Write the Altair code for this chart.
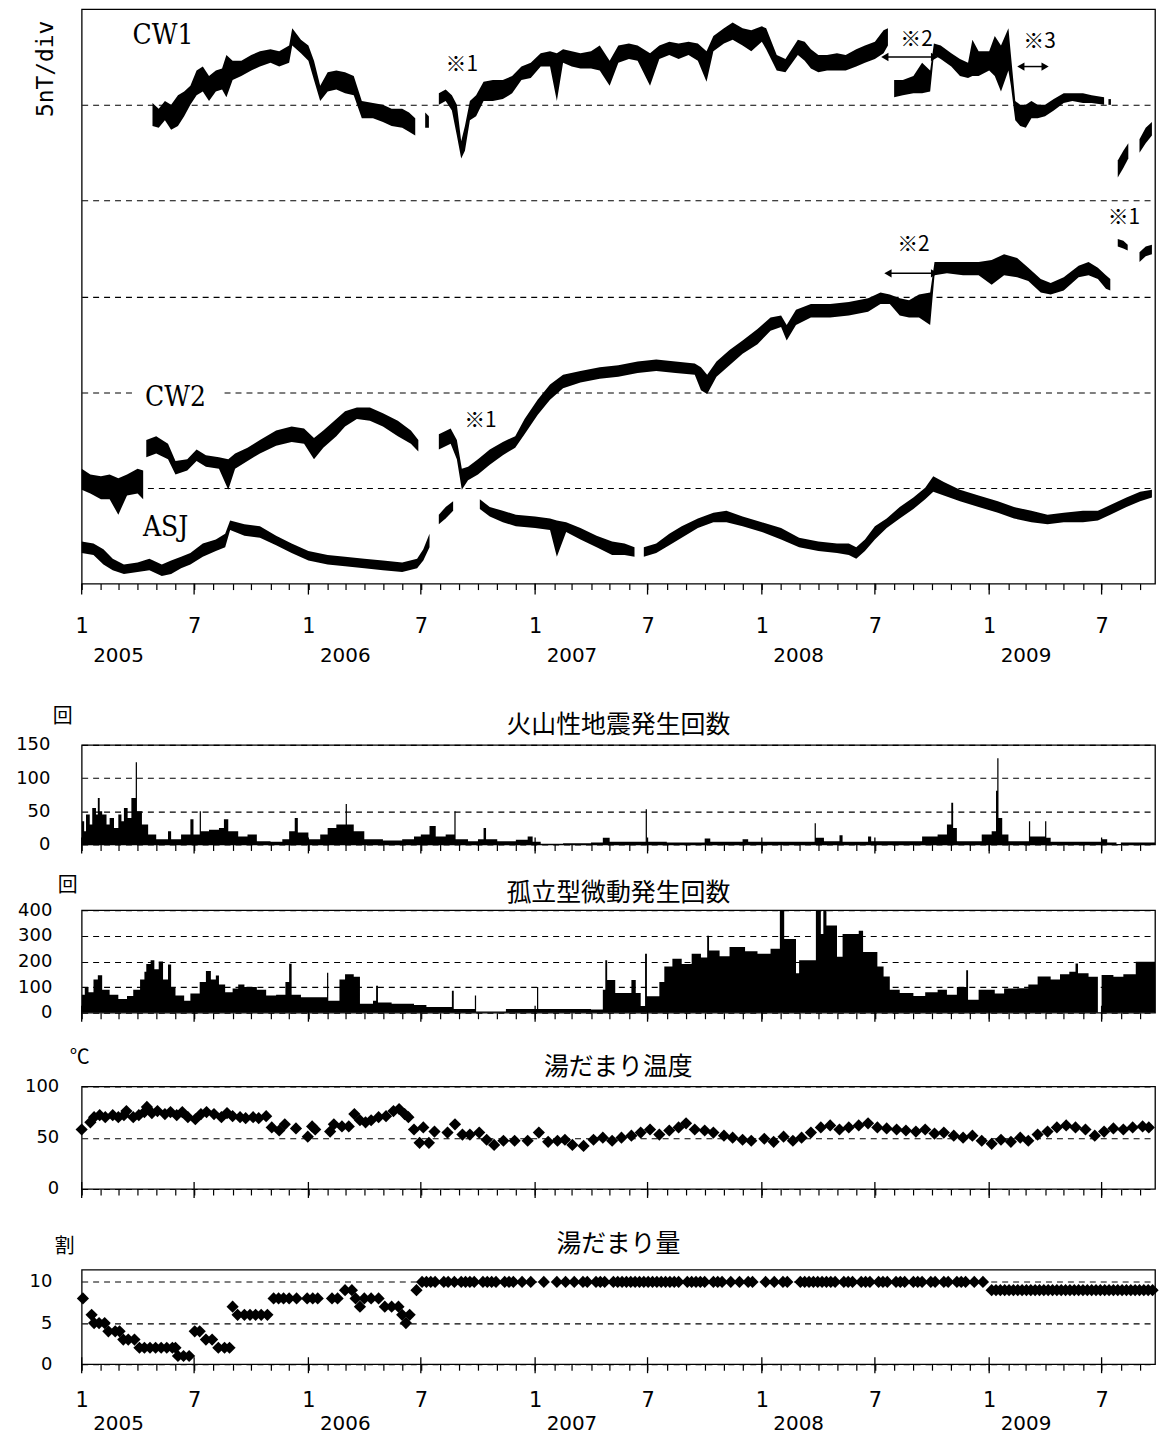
import altair as alt
import pandas as pd

# ---------------------------------------------------------------- data
# Magnetic total force (nT, arbitrary offset; 5 nT per division). (segment, date, low, high)
cw1_points = [
    (1, "2005-04-25", 23.9, 25.1), (1, "2005-05-05", 23.8, 24.8), (1, "2005-05-15", 24.2, 25.2),
    (1, "2005-05-25", 23.7, 25.0), (1, "2005-06-05", 23.9, 25.5), (1, "2005-06-15", 24.4, 25.7),
    (1, "2005-06-25", 25.0, 26.0), (1, "2005-07-05", 25.5, 26.8), (1, "2005-07-15", 25.7, 27.0),
    (1, "2005-07-25", 25.2, 26.5), (1, "2005-08-05", 25.7, 26.8), (1, "2005-08-15", 25.8, 26.9),
    (1, "2005-08-22", 25.4, 27.6), (1, "2005-09-01", 26.3, 27.3), (1, "2005-09-15", 26.5, 27.3),
    (1, "2005-10-01", 26.8, 27.6), (1, "2005-10-15", 27.0, 27.8), (1, "2005-11-01", 27.2, 27.9),
    (1, "2005-11-15", 27.0, 27.8), (1, "2005-12-01", 27.2, 28.1), (1, "2005-12-06", 28.1, 29.0),
    (1, "2005-12-20", 27.7, 28.4), (1, "2006-01-01", 27.3, 28.1), (1, "2006-01-10", 26.3, 27.3),
    (1, "2006-01-20", 25.2, 26.0), (1, "2006-02-01", 25.7, 26.7), (1, "2006-02-15", 25.8, 26.8),
    (1, "2006-03-01", 25.6, 26.7), (1, "2006-03-15", 25.5, 26.5), (1, "2006-03-28", 24.3, 25.2),
    (1, "2006-04-15", 24.3, 25.1), (1, "2006-05-01", 24.1, 25.0), (1, "2006-05-15", 23.9, 24.8),
    (1, "2006-06-01", 23.8, 24.8), (1, "2006-06-12", 23.6, 24.6), (1, "2006-06-22", 23.4, 24.3),
    (2, "2006-07-08", 23.8, 24.6), (2, "2006-07-14", 23.8, 24.4),
    (3, "2006-07-30", 25.0, 25.6), (3, "2006-08-10", 25.2, 25.8), (3, "2006-08-20", 24.7, 25.5),
    (3, "2006-08-28", 23.4, 25.0), (3, "2006-09-04", 22.2, 23.1), (3, "2006-09-10", 22.6, 23.9),
    (3, "2006-09-18", 24.2, 25.2), (3, "2006-09-28", 24.4, 25.5), (3, "2006-10-10", 25.2, 26.2),
    (3, "2006-10-25", 25.2, 26.3), (3, "2006-11-10", 25.3, 26.3), (3, "2006-11-25", 25.6, 26.5),
    (3, "2006-12-10", 26.3, 27.0), (3, "2006-12-25", 26.4, 27.2), (3, "2007-01-10", 27.0, 27.7),
    (3, "2007-01-25", 27.0, 27.8), (3, "2007-02-05", 25.2, 27.7), (3, "2007-02-15", 27.2, 27.9),
    (3, "2007-03-01", 27.0, 27.8), (3, "2007-03-15", 26.9, 27.7), (3, "2007-04-01", 26.9, 27.8),
    (3, "2007-04-15", 26.8, 28.1), (3, "2007-05-01", 26.0, 27.3), (3, "2007-05-15", 27.2, 28.1),
    (3, "2007-06-01", 27.4, 28.2), (3, "2007-06-15", 27.3, 28.1), (3, "2007-07-05", 26.0, 27.7),
    (3, "2007-07-20", 27.4, 28.1), (3, "2007-08-05", 27.6, 28.3), (3, "2007-08-20", 27.4, 28.2),
    (3, "2007-09-05", 27.6, 28.3), (3, "2007-09-20", 27.3, 28.2), (3, "2007-10-04", 26.2, 27.8),
    (3, "2007-10-15", 27.8, 28.6), (3, "2007-11-01", 28.2, 29.0), (3, "2007-11-15", 28.4, 29.3),
    (3, "2007-12-01", 28.1, 29.0), (3, "2007-12-15", 27.8, 28.9), (3, "2008-01-01", 28.3, 29.1),
    (3, "2008-01-08", 27.9, 29.0), (3, "2008-01-25", 26.8, 27.6), (3, "2008-02-08", 26.7, 27.4),
    (3, "2008-02-28", 27.6, 28.4), (3, "2008-03-10", 27.3, 28.3), (3, "2008-03-20", 26.9, 27.9),
    (3, "2008-04-01", 26.7, 27.6), (3, "2008-04-15", 26.8, 27.6), (3, "2008-05-01", 26.8, 27.7),
    (3, "2008-05-15", 26.8, 27.6), (3, "2008-06-01", 27.0, 27.9), (3, "2008-06-15", 27.2, 28.1),
    (3, "2008-07-01", 27.4, 28.3), (3, "2008-07-15", 27.7, 28.9), (3, "2008-07-22", 28.1, 29.0),
    (4, "2008-08-01", 25.4, 26.3), (4, "2008-08-15", 25.5, 26.3), (4, "2008-09-01", 25.6, 26.5),
    (4, "2008-09-15", 25.6, 27.2), (4, "2008-09-28", 25.7, 26.8), (4, "2008-10-04", 27.6, 28.2),
    (4, "2008-10-15", 27.4, 28.1), (4, "2008-11-01", 27.0, 27.7), (4, "2008-11-15", 26.5, 27.4),
    (4, "2008-11-28", 26.4, 27.2), (4, "2008-12-05", 26.5, 28.4), (4, "2008-12-15", 26.5, 27.8),
    (4, "2009-01-01", 26.8, 27.8), (4, "2009-01-10", 26.5, 28.6), (4, "2009-01-20", 25.7, 28.1),
    (4, "2009-02-01", 26.8, 29.0), (4, "2009-02-05", 26.0, 27.6), (4, "2009-02-12", 24.2, 25.2),
    (4, "2009-02-20", 23.9, 25.0), (4, "2009-03-01", 23.8, 25.0), (4, "2009-03-10", 24.3, 25.2),
    (4, "2009-03-20", 24.3, 25.0), (4, "2009-04-01", 24.4, 25.0), (4, "2009-04-15", 24.7, 25.3),
    (4, "2009-05-01", 25.1, 25.6), (4, "2009-05-15", 25.2, 25.6), (4, "2009-06-01", 25.1, 25.6),
    (4, "2009-06-15", 25.1, 25.5), (4, "2009-07-05", 25.0, 25.4),
    (5, "2009-07-12", 25.0, 25.3), (5, "2009-07-16", 25.0, 25.3),
    (6, "2009-07-27", 21.2, 22.1), (6, "2009-08-05", 21.7, 22.6), (6, "2009-08-13", 22.2, 23.0),
    (7, "2009-08-31", 22.5, 23.2), (7, "2009-09-10", 23.0, 23.8), (7, "2009-09-20", 23.4, 24.1),
]

cw2_points = [
    (1, "2005-01-01", 4.9, 6.0), (1, "2005-01-15", 4.7, 5.7), (1, "2005-02-01", 4.4, 5.6),
    (1, "2005-02-15", 4.4, 5.7), (1, "2005-03-01", 3.6, 5.5), (1, "2005-03-15", 4.6, 5.7),
    (1, "2005-04-01", 4.7, 6.0), (1, "2005-04-10", 4.4, 5.9),
    (2, "2005-04-15", 6.6, 7.5), (2, "2005-05-01", 6.8, 7.7), (2, "2005-05-20", 6.5, 7.3),
    (2, "2005-06-01", 5.7, 6.4), (2, "2005-06-20", 5.9, 6.5), (2, "2005-07-05", 6.4, 7.0),
    (2, "2005-07-20", 6.1, 6.7), (2, "2005-08-10", 6.0, 6.6), (2, "2005-08-25", 4.9, 6.5),
    (2, "2005-09-05", 6.0, 6.8), (2, "2005-09-25", 6.4, 7.1), (2, "2005-10-15", 6.8, 7.5),
    (2, "2005-11-10", 7.2, 8.0), (2, "2005-12-05", 7.4, 8.2), (2, "2005-12-25", 7.3, 8.1),
    (2, "2006-01-10", 6.5, 7.6), (2, "2006-01-25", 7.1, 8.0), (2, "2006-02-15", 7.7, 8.6),
    (2, "2006-03-01", 8.2, 9.0), (2, "2006-03-20", 8.6, 9.2), (2, "2006-04-10", 8.5, 9.2),
    (2, "2006-05-01", 8.2, 8.9), (2, "2006-05-25", 7.7, 8.5), (2, "2006-06-15", 7.3, 8.0),
    (2, "2006-06-27", 6.9, 7.5),
    (3, "2006-07-30", 7.0, 7.8), (3, "2006-08-18", 7.3, 8.1), (3, "2006-08-28", 6.5, 7.5),
    (3, "2006-09-05", 4.9, 6.0), (3, "2006-09-15", 5.4, 6.1), (3, "2006-10-01", 5.7, 6.5),
    (3, "2006-10-20", 6.2, 7.0), (3, "2006-11-10", 6.7, 7.4), (3, "2006-11-30", 7.1, 7.7),
    (3, "2006-12-15", 7.8, 8.6), (3, "2007-01-05", 8.8, 9.6), (3, "2007-01-25", 9.6, 10.4),
    (3, "2007-02-15", 10.2, 10.9), (3, "2007-03-15", 10.5, 11.1), (3, "2007-04-15", 10.7, 11.3),
    (3, "2007-05-15", 10.8, 11.4), (3, "2007-06-15", 11.0, 11.6), (3, "2007-07-15", 11.1, 11.7),
    (3, "2007-08-15", 11.0, 11.6), (3, "2007-09-15", 10.9, 11.5), (3, "2007-09-25", 10.1, 11.3),
    (3, "2007-10-05", 9.9, 10.9), (3, "2007-10-20", 10.8, 11.6), (3, "2007-11-10", 11.4, 12.2),
    (3, "2007-12-01", 12.0, 12.7), (3, "2007-12-25", 12.5, 13.3), (3, "2008-01-15", 13.2, 13.9),
    (3, "2008-02-01", 13.4, 14.0), (3, "2008-02-10", 12.7, 13.5), (3, "2008-02-25", 13.5, 14.3),
    (3, "2008-03-20", 13.9, 14.6), (3, "2008-04-20", 13.9, 14.6), (3, "2008-05-20", 14.0, 14.7),
    (3, "2008-06-20", 14.2, 14.9), (3, "2008-07-10", 14.6, 15.2), (3, "2008-07-25", 14.6, 15.1),
    (3, "2008-08-10", 14.0, 14.9), (3, "2008-08-25", 13.9, 14.8), (3, "2008-09-10", 13.9, 15.1),
    (3, "2008-09-28", 13.5, 15.2), (3, "2008-10-05", 16.1, 16.8), (3, "2008-10-25", 16.2, 16.8),
    (3, "2008-11-20", 16.1, 16.8), (3, "2008-12-15", 16.1, 16.8), (3, "2009-01-05", 15.6, 16.9),
    (3, "2009-01-25", 16.1, 17.2), (3, "2009-02-15", 16.0, 17.0), (3, "2009-03-05", 15.8, 16.5),
    (3, "2009-03-25", 15.2, 15.9), (3, "2009-04-10", 15.1, 15.7), (3, "2009-05-01", 15.3, 16.0),
    (3, "2009-05-25", 16.0, 16.6), (3, "2009-06-10", 16.1, 16.8), (3, "2009-06-25", 15.9, 16.5),
    (3, "2009-07-08", 15.4, 16.1), (3, "2009-07-15", 15.3, 15.9),
    (4, "2009-07-27", 17.6, 18.0), (4, "2009-08-05", 17.5, 17.9), (4, "2009-08-12", 17.4, 17.7),
    (5, "2009-08-31", 16.8, 17.3), (5, "2009-09-10", 17.1, 17.6), (5, "2009-09-20", 17.2, 17.7),
]

asj_points = [
    (1, "2005-01-01", 1.6, 2.2), (1, "2005-01-20", 1.5, 2.1), (1, "2005-02-05", 1.0, 1.8),
    (1, "2005-02-20", 0.7, 1.3), (1, "2005-03-10", 0.5, 1.0), (1, "2005-04-01", 0.6, 1.1),
    (1, "2005-04-20", 0.7, 1.3), (1, "2005-05-10", 0.4, 1.0), (1, "2005-05-25", 0.5, 1.2),
    (1, "2005-06-10", 0.8, 1.4), (1, "2005-06-25", 1.0, 1.6), (1, "2005-07-15", 1.4, 2.1),
    (1, "2005-08-05", 1.7, 2.3), (1, "2005-08-20", 1.9, 2.6), (1, "2005-08-28", 2.8, 3.3),
    (1, "2005-09-20", 2.5, 3.1), (1, "2005-10-15", 2.4, 3.0), (1, "2005-11-10", 2.0, 2.5),
    (1, "2005-12-05", 1.6, 2.1), (1, "2006-01-01", 1.2, 1.7), (1, "2006-02-01", 1.0, 1.5),
    (1, "2006-03-01", 0.9, 1.4), (1, "2006-04-01", 0.8, 1.3), (1, "2006-05-01", 0.7, 1.2),
    (1, "2006-06-01", 0.6, 1.1), (1, "2006-06-25", 0.8, 1.3), (1, "2006-07-05", 1.2, 1.8),
    (1, "2006-07-15", 1.9, 2.6),
    (2, "2006-07-30", 3.1, 3.6), (2, "2006-08-10", 3.4, 4.0), (2, "2006-08-22", 3.8, 4.3),
    (3, "2006-10-04", 3.9, 4.4), (3, "2006-10-20", 3.5, 4.0), (3, "2006-11-10", 3.2, 3.8),
    (3, "2006-12-01", 3.0, 3.6), (3, "2007-01-01", 2.9, 3.5), (3, "2007-01-25", 2.8, 3.4),
    (3, "2007-02-05", 1.4, 3.3), (3, "2007-02-20", 2.7, 3.2), (3, "2007-03-15", 2.3, 2.9),
    (3, "2007-04-10", 1.9, 2.5), (3, "2007-05-05", 1.5, 2.2), (3, "2007-05-25", 1.5, 2.1),
    (3, "2007-06-10", 1.4, 1.9),
    (4, "2007-06-25", 1.4, 1.9), (4, "2007-07-15", 1.6, 2.1), (4, "2007-08-05", 2.0, 2.6),
    (4, "2007-08-25", 2.4, 3.0), (4, "2007-09-20", 2.9, 3.4), (4, "2007-10-15", 3.2, 3.7),
    (4, "2007-11-05", 3.2, 3.8), (4, "2007-12-01", 3.0, 3.5), (4, "2008-01-01", 2.7, 3.2),
    (4, "2008-02-01", 2.3, 2.9), (4, "2008-03-01", 1.9, 2.4), (4, "2008-04-01", 1.7, 2.2),
    (4, "2008-05-01", 1.6, 2.1), (4, "2008-05-20", 1.5, 2.1), (4, "2008-06-01", 1.3, 1.9),
    (4, "2008-06-15", 1.7, 2.3), (4, "2008-07-01", 2.3, 3.0), (4, "2008-07-20", 2.9, 3.4),
    (4, "2008-08-10", 3.4, 4.0), (4, "2008-09-01", 3.9, 4.5), (4, "2008-09-20", 4.4, 5.0),
    (4, "2008-10-03", 4.8, 5.6), (4, "2008-10-20", 4.6, 5.3), (4, "2008-11-15", 4.3, 4.9),
    (4, "2008-12-15", 4.0, 4.6), (4, "2009-01-15", 3.7, 4.3), (4, "2009-02-10", 3.4, 4.0),
    (4, "2009-03-10", 3.2, 3.8), (4, "2009-04-05", 3.1, 3.6), (4, "2009-05-01", 3.2, 3.7),
    (4, "2009-06-01", 3.2, 3.8), (4, "2009-06-25", 3.3, 3.8), (4, "2009-07-15", 3.6, 4.1),
    (4, "2009-08-10", 4.0, 4.5), (4, "2009-09-01", 4.3, 4.8), (4, "2009-09-20", 4.5, 4.9),
]

series_labels = [("CW1", "2005-05-12", 28.6), ("CW2", "2005-06-01", 9.7), ("ASJ", "2005-05-16", 2.9)]
note_labels = [("※1", "2006-09-05", 27.1), ("※1", "2006-10-05", 8.5), ("※2", "2008-09-06", 28.4),
               ("※2", "2008-09-01", 17.7), ("※3", "2009-03-23", 28.3), ("※1", "2009-08-06", 19.1)]
arrows = [("2008-07-17", "2008-10-05", 27.5), ("2008-07-22", "2008-10-05", 16.2),
          ("2009-02-21", "2009-04-01", 27.0)]
label_mask = [("2005-03-28", "2005-08-14", 9.5, 10.45)]

# volcanic earthquakes per day (step values)
quake = [
    ("2005-01-01", 35), ("2005-01-05", 20), ("2005-01-08", 45), ("2005-01-14", 30), ("2005-01-18", 55),
    ("2005-01-24", 45), ("2005-01-27", 70), ("2005-01-30", 50), ("2005-02-03", 45), ("2005-02-10", 30),
    ("2005-02-15", 40), ("2005-02-22", 25), ("2005-03-01", 45), ("2005-03-06", 35), ("2005-03-10", 55),
    ("2005-03-16", 40), ("2005-03-22", 70), ("2005-03-29", 124), ("2005-03-31", 50), ("2005-04-08", 30),
    ("2005-04-18", 15), ("2005-05-01", 8), ("2005-05-20", 20), ("2005-05-25", 8), ("2005-06-10", 15),
    ("2005-06-25", 38), ("2005-06-30", 15), ("2005-07-10", 50), ("2005-07-12", 20), ("2005-07-25", 22),
    ("2005-08-10", 25), ("2005-08-18", 38), ("2005-08-25", 20), ("2005-09-10", 12), ("2005-09-25", 15),
    ("2005-10-10", 5), ("2005-11-01", 4), ("2005-11-20", 8), ("2005-12-01", 20), ("2005-12-10", 40),
    ("2005-12-15", 18), ("2006-01-01", 8), ("2006-01-20", 15), ("2006-02-01", 25), ("2006-02-15", 30),
    ("2006-03-02", 61), ("2006-03-04", 30), ("2006-03-15", 20), ("2006-04-01", 8), ("2006-05-01", 6),
    ("2006-06-01", 8), ("2006-06-20", 12), ("2006-07-01", 15), ("2006-07-15", 28), ("2006-07-25", 12),
    ("2006-08-10", 15), ("2006-08-24", 50), ("2006-08-26", 8), ("2006-09-15", 5), ("2006-10-01", 8),
    ("2006-10-10", 25), ("2006-10-14", 8), ("2006-11-01", 5), ("2006-12-01", 7), ("2006-12-20", 12),
    ("2006-12-28", 4), ("2007-01-10", 1), ("2007-02-15", 2), ("2007-04-01", 3), ("2007-04-20", 10),
    ("2007-05-01", 4), ("2007-06-28", 53), ("2007-06-30", 4), ("2007-08-01", 3), ("2007-10-01", 9),
    ("2007-10-10", 4), ("2007-12-01", 8), ("2007-12-10", 4), ("2008-03-26", 32), ("2008-03-28", 10),
    ("2008-04-10", 5), ("2008-05-05", 14), ("2008-05-10", 4), ("2008-06-20", 12), ("2008-06-25", 5),
    ("2008-09-15", 12), ("2008-10-10", 15), ("2008-10-25", 30), ("2008-11-01", 63), ("2008-11-04", 25),
    ("2008-11-10", 5), ("2008-12-20", 15), ("2009-01-05", 20), ("2009-01-12", 81), ("2009-01-14", 130),
    ("2009-01-16", 40), ("2009-01-22", 15), ("2009-02-01", 5), ("2009-03-06", 35), ("2009-03-08", 12),
    ("2009-03-25", 12), ("2009-04-01", 35), ("2009-04-03", 10), ("2009-04-10", 4), ("2009-07-01", 8),
    ("2009-07-10", 3), ("2009-07-25", 0), ("2009-08-01", 3), ("2009-09-25", 3),
]

# isolated tremors per day (step values)
tremor = [
    ("2005-01-01", 70), ("2005-01-06", 100), ("2005-01-12", 80), ("2005-01-20", 130), ("2005-01-27", 146),
    ("2005-02-03", 90), ("2005-02-15", 70), ("2005-03-01", 54), ("2005-03-15", 65), ("2005-03-25", 90),
    ("2005-04-05", 130), ("2005-04-12", 160), ("2005-04-15", 190), ("2005-04-22", 205), ("2005-04-28", 170),
    ("2005-05-05", 200), ("2005-05-12", 130), ("2005-05-20", 188), ("2005-05-25", 100), ("2005-06-01", 67),
    ("2005-06-15", 47), ("2005-06-25", 75), ("2005-07-10", 120), ("2005-07-20", 163), ("2005-07-28", 130),
    ("2005-08-05", 145), ("2005-08-10", 110), ("2005-08-20", 80), ("2005-09-01", 95), ("2005-09-10", 110),
    ("2005-09-20", 100), ("2005-10-10", 90), ("2005-10-25", 67), ("2005-11-10", 70), ("2005-11-25", 120),
    ("2005-12-01", 191), ("2005-12-05", 70), ("2005-12-20", 60), ("2006-01-15", 60), ("2006-01-31", 156),
    ("2006-02-02", 47), ("2006-02-20", 130), ("2006-03-01", 150), ("2006-03-15", 140), ("2006-03-25", 35),
    ("2006-04-15", 47), ("2006-04-20", 105), ("2006-04-23", 40), ("2006-05-15", 35), ("2006-06-20", 30),
    ("2006-07-10", 22), ("2006-08-20", 86), ("2006-08-23", 15), ("2006-09-26", 67), ("2006-09-28", 5),
    ("2006-11-15", 15), ("2007-01-04", 100), ("2007-01-06", 15), ("2007-04-01", 13), ("2007-04-20", 90),
    ("2007-04-24", 205), ("2007-04-27", 128), ("2007-05-10", 77), ("2007-06-05", 128), ("2007-06-12", 77),
    ("2007-06-20", 26), ("2007-06-27", 230), ("2007-06-30", 64), ("2007-07-20", 120), ("2007-07-28", 180),
    ("2007-08-10", 211), ("2007-08-25", 190), ("2007-09-10", 230), ("2007-09-25", 215), ("2007-10-05", 300),
    ("2007-10-08", 243), ("2007-10-25", 220), ("2007-11-10", 256), ("2007-12-05", 240), ("2007-12-25", 230),
    ("2008-01-15", 250), ("2008-01-30", 397), ("2008-02-06", 288), ("2008-02-25", 154), ("2008-03-01", 205),
    ("2008-03-28", 400), ("2008-04-05", 307), ("2008-04-09", 400), ("2008-04-14", 340), ("2008-05-01", 218),
    ("2008-05-10", 307), ("2008-06-05", 320), ("2008-06-12", 237), ("2008-07-05", 180), ("2008-07-15", 141),
    ("2008-07-25", 90), ("2008-08-10", 77), ("2008-09-01", 65), ("2008-09-20", 80), ("2008-10-10", 90),
    ("2008-10-25", 70), ("2008-11-10", 100), ("2008-11-25", 166), ("2008-11-28", 51), ("2008-12-15", 90),
    ("2009-01-10", 75), ("2009-01-25", 95), ("2009-02-15", 96), ("2009-03-05", 110), ("2009-03-20", 141),
    ("2009-04-10", 130), ("2009-04-25", 150), ("2009-05-10", 160), ("2009-05-20", 192), ("2009-05-24", 154),
    ("2009-06-10", 140), ("2009-06-25", 0), ("2009-07-01", 147), ("2009-07-20", 140), ("2009-08-05", 150),
    ("2009-08-25", 199), ("2009-09-25", 199),
]

# crater lake temperature (deg C)
temp = [
    ("2005-01-01", 58), ("2005-01-15", 65), ("2005-01-21", 70), ("2005-01-30", 72), ("2005-02-08", 70),
    ("2005-02-20", 72), ("2005-03-01", 70), ("2005-03-10", 72), ("2005-03-14", 76), ("2005-03-25", 70),
    ("2005-04-03", 72), ("2005-04-12", 75), ("2005-04-16", 80), ("2005-04-24", 74), ("2005-05-03", 76),
    ("2005-05-15", 73), ("2005-05-24", 75), ("2005-06-03", 72), ("2005-06-12", 75), ("2005-06-21", 70),
    ("2005-07-03", 68), ("2005-07-12", 73), ("2005-07-21", 75), ("2005-08-02", 73), ("2005-08-14", 70),
    ("2005-08-23", 74), ("2005-09-01", 71), ("2005-09-13", 70), ("2005-09-22", 69), ("2005-10-04", 70),
    ("2005-10-13", 69), ("2005-10-25", 71), ("2005-11-03", 60), ("2005-11-15", 57), ("2005-11-24", 63),
    ("2005-12-12", 59), ("2005-12-31", 51), ("2006-01-07", 61), ("2006-01-12", 58), ("2006-02-05", 56),
    ("2006-02-11", 63), ("2006-02-24", 61), ("2006-03-07", 61), ("2006-03-16", 73), ("2006-03-25", 67),
    ("2006-04-03", 65), ("2006-04-12", 67), ("2006-04-24", 70), ("2006-05-06", 71), ("2006-05-18", 76),
    ("2006-05-27", 78), ("2006-06-05", 73), ("2006-06-11", 70), ("2006-06-20", 58), ("2006-06-29", 45),
    ("2006-07-05", 60), ("2006-07-14", 45), ("2006-07-23", 56), ("2006-08-13", 55), ("2006-08-25", 63),
    ("2006-09-06", 53), ("2006-09-18", 53), ("2006-10-03", 55), ("2006-10-15", 48), ("2006-10-27", 43),
    ("2006-11-11", 47), ("2006-11-29", 47), ("2006-12-20", 47), ("2007-01-07", 55), ("2007-01-22", 46),
    ("2007-02-06", 47), ("2007-02-18", 48), ("2007-03-02", 43), ("2007-03-20", 42), ("2007-04-05", 48),
    ("2007-04-20", 50), ("2007-05-05", 47), ("2007-05-20", 50), ("2007-06-05", 52), ("2007-06-20", 55),
    ("2007-07-05", 58), ("2007-07-20", 53), ("2007-08-05", 57), ("2007-08-20", 60), ("2007-09-01", 64),
    ("2007-09-15", 58), ("2007-10-01", 57), ("2007-10-15", 55), ("2007-11-01", 52), ("2007-11-15", 50),
    ("2007-12-01", 48), ("2007-12-15", 47), ("2008-01-05", 49), ("2008-01-20", 46), ("2008-02-05", 51),
    ("2008-02-20", 47), ("2008-03-05", 50), ("2008-03-20", 55), ("2008-04-05", 60), ("2008-04-20", 62),
    ("2008-05-05", 58), ("2008-05-20", 60), ("2008-06-05", 62), ("2008-06-20", 64), ("2008-07-05", 60),
    ("2008-07-20", 59), ("2008-08-05", 58), ("2008-08-20", 57), ("2008-09-05", 56), ("2008-09-20", 58),
    ("2008-10-05", 54), ("2008-10-20", 55), ("2008-11-05", 52), ("2008-11-20", 50), ("2008-12-05", 52),
    ("2008-12-20", 47), ("2009-01-05", 44), ("2009-01-20", 48), ("2009-02-05", 46), ("2009-02-20", 50),
    ("2009-03-05", 47), ("2009-03-20", 53), ("2009-04-05", 56), ("2009-04-20", 60), ("2009-05-05", 62),
    ("2009-05-20", 60), ("2009-06-05", 58), ("2009-06-20", 52), ("2009-07-05", 56), ("2009-07-20", 59),
    ("2009-08-05", 58), ("2009-08-20", 60), ("2009-09-05", 61), ("2009-09-15", 60),
]

# crater lake water amount (tenths)
amount = [
    ("2005-01-03", 8), ("2005-01-17", 6), ("2005-01-21", 5), ("2005-01-29", 5), ("2005-02-07", 5),
    ("2005-02-13", 4), ("2005-02-24", 4), ("2005-03-03", 4), ("2005-03-09", 3), ("2005-03-17", 3),
    ("2005-03-27", 3), ("2005-04-04", 2), ("2005-04-12", 2), ("2005-04-21", 2), ("2005-04-30", 2),
    ("2005-05-09", 2), ("2005-05-18", 2), ("2005-05-27", 2), ("2005-06-01", 2), ("2005-06-05", 1),
    ("2005-06-14", 1), ("2005-06-23", 1), ("2005-07-02", 4), ("2005-07-10", 4), ("2005-07-20", 3),
    ("2005-07-30", 3), ("2005-08-09", 2), ("2005-08-19", 2), ("2005-08-27", 2), ("2005-09-01", 7),
    ("2005-09-09", 6), ("2005-09-20", 6), ("2005-09-29", 6), ("2005-10-08", 6), ("2005-10-17", 6),
    ("2005-10-27", 6), ("2005-11-06", 8), ("2005-11-14", 8), ("2005-11-22", 8), ("2005-12-01", 8),
    ("2005-12-13", 8), ("2005-12-30", 8), ("2006-01-08", 8), ("2006-01-16", 8), ("2006-02-08", 8),
    ("2006-02-17", 8), ("2006-03-01", 9), ("2006-03-12", 9), ("2006-03-18", 8), ("2006-03-25", 7),
    ("2006-04-01", 8), ("2006-04-12", 8), ("2006-04-24", 8), ("2006-05-04", 7), ("2006-05-15", 7),
    ("2006-05-26", 7), ("2006-06-01", 6), ("2006-06-07", 5), ("2006-06-13", 6), ("2006-06-24", 9),
    ("2006-07-03", 10), ("2006-07-10", 10), ("2006-07-17", 10), ("2006-07-24", 10), ("2006-08-07", 10),
    ("2006-08-14", 10), ("2006-08-24", 10), ("2006-09-04", 10), ("2006-09-11", 10), ("2006-09-18", 10),
    ("2006-09-25", 10), ("2006-10-09", 10), ("2006-10-16", 10), ("2006-10-23", 10), ("2006-10-30", 10),
    ("2006-11-13", 10), ("2006-11-20", 10), ("2006-11-27", 10), ("2006-12-11", 10), ("2006-12-25", 10),
    ("2007-01-15", 10), ("2007-02-05", 10), ("2007-02-19", 10), ("2007-03-05", 10), ("2007-03-19", 10),
    ("2007-03-26", 10), ("2007-04-09", 10), ("2007-04-16", 10), ("2007-04-23", 10), ("2007-05-07", 10),
    ("2007-05-14", 10), ("2007-05-21", 10), ("2007-05-28", 10), ("2007-06-04", 10), ("2007-06-11", 10),
    ("2007-06-18", 10), ("2007-06-25", 10), ("2007-07-02", 10), ("2007-07-09", 10), ("2007-07-16", 10),
    ("2007-07-23", 10), ("2007-07-30", 10), ("2007-08-06", 10), ("2007-08-13", 10), ("2007-08-20", 10),
    ("2007-09-03", 10), ("2007-09-10", 10), ("2007-09-17", 10), ("2007-09-24", 10), ("2007-10-01", 10),
    ("2007-10-15", 10), ("2007-10-22", 10), ("2007-10-29", 10), ("2007-11-12", 10), ("2007-11-26", 10),
    ("2007-12-10", 10), ("2007-12-17", 10), ("2008-01-07", 10), ("2008-01-21", 10), ("2008-02-04", 10),
    ("2008-02-11", 10), ("2008-03-03", 10), ("2008-03-10", 10), ("2008-03-17", 10), ("2008-03-24", 10),
    ("2008-03-31", 10), ("2008-04-07", 10), ("2008-04-14", 10), ("2008-04-21", 10), ("2008-04-28", 10),
    ("2008-05-12", 10), ("2008-05-19", 10), ("2008-05-26", 10), ("2008-06-09", 10), ("2008-06-16", 10),
    ("2008-06-23", 10), ("2008-07-07", 10), ("2008-07-14", 10), ("2008-07-21", 10), ("2008-08-04", 10),
    ("2008-08-11", 10), ("2008-08-18", 10), ("2008-09-01", 10), ("2008-09-08", 10), ("2008-09-15", 10),
    ("2008-09-29", 10), ("2008-10-06", 10), ("2008-10-20", 10), ("2008-10-27", 10), ("2008-11-10", 10),
    ("2008-11-17", 10), ("2008-11-24", 10), ("2008-12-08", 10), ("2008-12-22", 10),
    ("2009-01-05", 9), ("2009-01-12", 9), ("2009-01-19", 9), ("2009-01-26", 9), ("2009-02-02", 9),
    ("2009-02-09", 9), ("2009-02-16", 9), ("2009-02-23", 9), ("2009-03-02", 9), ("2009-03-09", 9),
    ("2009-03-16", 9), ("2009-03-23", 9), ("2009-03-30", 9), ("2009-04-06", 9), ("2009-04-13", 9),
    ("2009-04-20", 9), ("2009-04-27", 9), ("2009-05-04", 9), ("2009-05-11", 9), ("2009-05-18", 9),
    ("2009-05-25", 9), ("2009-06-01", 9), ("2009-06-08", 9), ("2009-06-15", 9), ("2009-06-22", 9),
    ("2009-06-29", 9), ("2009-07-06", 9), ("2009-07-13", 9), ("2009-07-20", 9), ("2009-07-27", 9),
    ("2009-08-03", 9), ("2009-08-10", 9), ("2009-08-17", 9), ("2009-08-24", 9), ("2009-08-31", 9),
    ("2009-09-07", 9), ("2009-09-14", 9), ("2009-09-21", 9),
]

years = [2005, 2006, 2007, 2008, 2009]
month_ticks = [(y, m) for y in years for m in range(1, 13) if not (y == 2009 and m > 9)]

titles = ["火山性地震発生回数", "孤立型微動発生回数", "湯だまり温度", "湯だまり量"]
units = ["回", "回", "℃", "割"]
top_unit = "5nT/div"

# ---------------------------------------------------------------- helpers
W = 1078
NUM_FONT = "DejaVu Sans"
JP_FONT = "Noto Sans CJK JP"
DASH = [6, 5]

xdomain = [alt.DateTime(year=2005, month=1, date=1, utc=True),
           alt.DateTime(year=2009, month=9, date=25, utc=True)]
tick_values = [alt.DateTime(year=y, month=m, date=1, utc=True) for (y, m) in month_ticks]
LABEL_EXPR = "utcmonth(datum.value)==0 ? '1' : (utcmonth(datum.value)==6 ? '7' : '')"


def xaxis(labels, pad=20):
    if labels:
        return alt.Axis(values=tick_values, labelExpr=LABEL_EXPR, labelFont=NUM_FONT, labelFontSize=21,
                        labelPadding=pad, labelColor="black", labelAngle=0, labelFlush=False,
                        labelOverlap=False, tickSize=6, tickColor="black", tickWidth=1.2,
                        domain=False, grid=False, title=None)
    return alt.Axis(values=tick_values, labels=False, tickSize=6, tickColor="black", tickWidth=1.2,
                    domain=False, grid=False, title=None)


def X(field, labels=False, pad=20):
    return alt.X(field, type="temporal", scale=alt.Scale(type="utc", domain=xdomain), axis=xaxis(labels, pad))


majors_df = pd.DataFrame({"date": [f"{y}-{m:02d}-01" for (y, m) in month_ticks if m in (1, 7)]})
years_df = pd.DataFrame({"date": [f"{y}-01-01" for y in years], "label": [str(y) for y in years]})


def tick_layers(H, up, down, labels=False, pad=20, year_y=0):
    layers = [alt.Chart(majors_df).mark_rule(color="black", strokeWidth=1.3).encode(
        x=X("date:T", labels, pad), y=alt.value(H - up), y2=alt.value(H + down))]
    if labels:
        layers.append(alt.Chart(years_df).mark_text(font=NUM_FONT, fontSize=20, dx=37, color="black",
                                                    baseline="middle").encode(
            x=X("date:T", labels, pad), y=alt.value(year_y), text="label:N"))
    return layers


def text_layer(txt, x, y, font, size, angle=0):
    return alt.Chart(pd.DataFrame({"t": [txt]})).mark_text(
        font=font, fontSize=size, color="black", angle=angle, align="center", baseline="middle").encode(
        x=alt.value(x), y=alt.value(y), text="t:N")


# ---------------------------------------------------------------- top panel
rows = []
for name, pts in (("CW1", cw1_points), ("CW2", cw2_points), ("ASJ", asj_points)):
    for seg, d, lo, hi in pts:
        rows.append({"key": f"{name}-{seg}", "date": d, "lo": lo, "hi": hi})
mag_df = pd.DataFrame(rows)

H0 = 577
TOP_PAD = 26
YTOP = dict(scale=alt.Scale(domain=[0, 30]),
            axis=alt.Axis(values=[5, 10, 15, 20, 25], grid=True, gridDash=DASH, gridColor="black",
                          gridWidth=1.1, labels=False, ticks=False, domain=False, title=None))

mask = alt.Chart(pd.DataFrame(label_mask, columns=["d1", "d2", "v1", "v2"])).mark_rect(color="white").encode(
    x=X("d1:T", True, TOP_PAD), x2="d2:T", y=alt.Y("v1:Q", **YTOP), y2="v2:Q")
bands = alt.Chart(mag_df).mark_area(color="black", opacity=1).encode(
    x=X("date:T", True, TOP_PAD), y=alt.Y("lo:Q", **YTOP), y2="hi:Q", detail="key:N")
slabels = alt.Chart(pd.DataFrame(series_labels, columns=["t", "date", "v"])).mark_text(
    font="DejaVu Serif Condensed", fontSize=28, color="black").encode(
    x=X("date:T", True, TOP_PAD), y=alt.Y("v:Q", **YTOP), text="t:N")
nlabels = alt.Chart(pd.DataFrame(note_labels, columns=["t", "date", "v"])).mark_text(
    font=JP_FONT, fontSize=21, color="black").encode(
    x=X("date:T", True, TOP_PAD), y=alt.Y("v:Q", **YTOP), text="t:N")
arr_df = pd.DataFrame(arrows, columns=["d1", "d2", "v"])
arr_line = alt.Chart(arr_df).mark_rule(color="black", strokeWidth=1.5).encode(
    x=X("d1:T", True, TOP_PAD), x2="d2:T", y=alt.Y("v:Q", **YTOP))
arr_l = alt.Chart(arr_df).mark_point(shape="triangle-left", filled=True, color="black", size=70, opacity=1).encode(
    x=X("d1:T", True, TOP_PAD), y=alt.Y("v:Q", **YTOP))
arr_r = alt.Chart(arr_df).mark_point(shape="triangle-right", filled=True, color="black", size=70, opacity=1).encode(
    x=X("d2:T", True, TOP_PAD), y=alt.Y("v:Q", **YTOP))

top = alt.layer(mask, bands, slabels, nlabels, arr_line, arr_l, arr_r,
                text_layer(top_unit, -36, 60, "DejaVu Sans Mono", 23, 270),
                *tick_layers(H0, 0, 11, True, TOP_PAD, H0 + 73)).properties(width=W, height=H0)


# ---------------------------------------------------------------- lower panels
def lower(i, data, H, domain, values, mark, lab_pad, ux, uy, ty, labels=False):
    df = pd.DataFrame(data, columns=["date", "v"])
    yaxis = alt.Axis(values=values, grid=True, gridDash=DASH, gridColor="black", gridWidth=1.1,
                     ticks=False, domain=False, labelPadding=lab_pad, labelFont=NUM_FONT,
                     labelFontSize=18, labelColor="black", title=None)
    base = alt.Chart(df)
    if mark == "area":
        m = base.mark_area(color="black", interpolate="step-after", clip=True, opacity=1)
    else:
        m = base.mark_point(shape="diamond", filled=True, color="black", size=150, opacity=1)
    main = m.encode(x=X("date:T", labels, 19), y=alt.Y("v:Q", scale=alt.Scale(domain=domain), axis=yaxis))
    return alt.layer(*tick_layers(H, 7, 9, labels, 19, H + 60), main,
                     text_layer(units[i], ux, uy, JP_FONT, 20),
                     text_layer(titles[i], W / 2, ty, JP_FONT, 25)).properties(width=W, height=H)


p_quake = lower(0, quake, 100, [0, 150], [0, 50, 100, 150], "area", 32, -19, -28, -20)
p_tremor = lower(1, tremor, 103, [0, 400], [0, 100, 200, 300, 400], "area", 30, -14, -24, -17)
p_temp = lower(2, temp, 103, [0, 100], [0, 50, 100], "point", 23, -2, -29, -19)
p_amount = lower(3, amount, 95, [0, 11.5], [0, 5, 10], "point", 30, -17, -23, -26, labels=True)

g3 = alt.vconcat(p_temp, p_amount, spacing=31)
g2 = alt.vconcat(p_tremor, g3, spacing=23)
g1 = alt.vconcat(p_quake, g2, spacing=20)

chart = alt.vconcat(top, g1, spacing=39).properties(
    padding={"left": 6, "top": -3, "right": 0, "bottom": 0}, background="white"
).configure_view(stroke="black", strokeWidth=1.3).configure_axis(labelColor="black")

chart.save("out.html", embed_options={"renderer": "svg", "actions": False})
